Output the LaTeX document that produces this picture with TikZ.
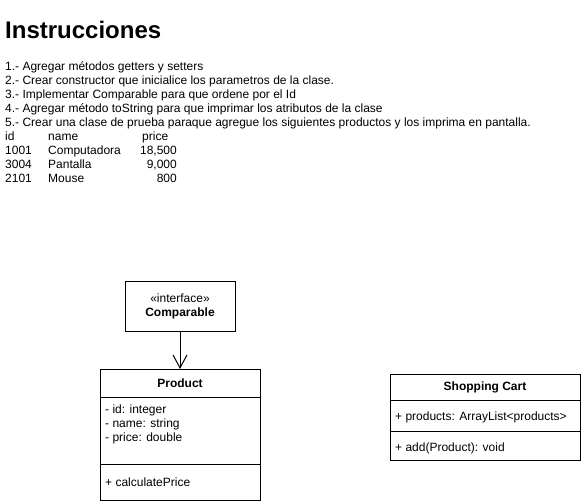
\documentclass[tikz,border=0pt]{standalone}
\usepackage{fontspec}
\setmainfont{Liberation Sans}
\usepackage{tikz}
\usetikzlibrary{positioning, arrows.meta}
\tikzstyle{heading} = [anchor=base west, inner sep=0pt, font=\bfseries\fontsize{24}{28}\selectfont]
\tikzstyle{txt} = [anchor=base west, inner sep=0pt, font=\fontsize{12}{14}\selectfont]
\tikzstyle{num} = [anchor=base east, inner sep=0pt, font=\fontsize{12}{14}\selectfont]
\tikzstyle{classhead} = [rectangle, draw=black, line width=1pt, inner sep=0pt,
outer sep=0pt, font=\bfseries\fontsize{12}{14}\selectfont]
\tikzstyle{classpart} = [rectangle, draw=black, line width=1pt, inner sep=0pt,
outer sep=0pt]
\tikzstyle{implements} = [line width=1pt, -{Straight Barb[length=13pt, width=14pt, line width=1pt]}]

\begin{document}
\begin{tikzpicture}[x=1pt, y=-1pt]
    % \draw[help lines] (0,0) grid (581,503);
    \useasboundingbox (0,0) rectangle (581,503);

    \node (T) [heading] at (5,39) {Instrucciones};
    \node (L1) [txt] at (5,70.5) {1.- Agregar métodos getters y setters};
    \node (L2) [txt] at (5,84.5) {2.- Crear constructor que inicialice los parametros de la clase.};
    \node (L3) [txt] at (5,98.5) {3.- Implementar Comparable para que ordene por el Id};
    \node (L4) [txt] at (5,112.5) {4.- Agregar método toString para que imprimar los atributos de la clase};
    \node (L5) [txt] at (5,126.5) {5.- Crear una clase de prueba paraque agregue los siguientes productos y los imprima en pantalla.};

    % the small table of products
    \node (Hid) [txt] at (5,140.5) {id}; \node (Hname) [txt] at (48,140.5)
    {name}; \node (Hprice) [txt] at (142,140.5) {price};
    \node (R1id) [txt] at (5,154.5) {1001}; \node (R1name) [txt] at (48,154.5)
    {Computadora}; \node (R1price) [num] at (177,154.5) {18,500};
    \node (R2id) [txt] at (5,168.5) {3004}; \node (R2name) [txt] at (48,168.5)
    {Pantalla}; \node (R2price) [num] at (177,168.5) {9,000};
    \node (R3id) [txt] at (5,182.5) {2101}; \node (R3name) [txt] at (48,182.5)
    {Mouse}; \node (R3price) [num] at (177,182.5) {800};

    % interface
    \node (C) [classhead, minimum width=110pt, minimum height=50pt, anchor=north
      west, align=center] at (125,281) {{\mdseries «interface»}\\Comparable};

    % Product class
    \node (PT) [classhead, minimum width=160pt, minimum height=28pt, anchor=north
      west] at (100,369) {Product}; \node (PA) [classpart, minimum width=160pt,
      minimum height=67pt, below=0pt of PT] {}; \node (PM) [classpart, minimum
      width=160pt, minimum height=36pt, below=0pt of PA] {};
    \node (Pid) [txt] at (105,413) {- id: integer};
    \node (Pname) [txt] at (105,427) {- name: string};
    \node (Pprice) [txt] at (105,441) {- price: double};
    \node (Pcalc) [txt] at (105,486) {+ calculatePrice};

    % Shopping Cart class
    \node (ST) [classhead, minimum width=190pt, minimum height=26.5pt, anchor=north
      west] at (390,374) {Shopping Cart}; \node (SA) [classpart, minimum
      width=190pt, minimum height=30.5pt, below=0pt of ST] {}; \node (SM)
    [classpart, minimum width=190pt, minimum height=29.5pt, below=0pt of SA] {};
    \node (Sprod) [txt] at (395,420) {+ products: ArrayList<products>};
    \node (Sadd) [txt] at (395,451) {+ add(Product): void};

    \draw [implements] (C) -- (PT);

  \end{tikzpicture}
\end{document}
